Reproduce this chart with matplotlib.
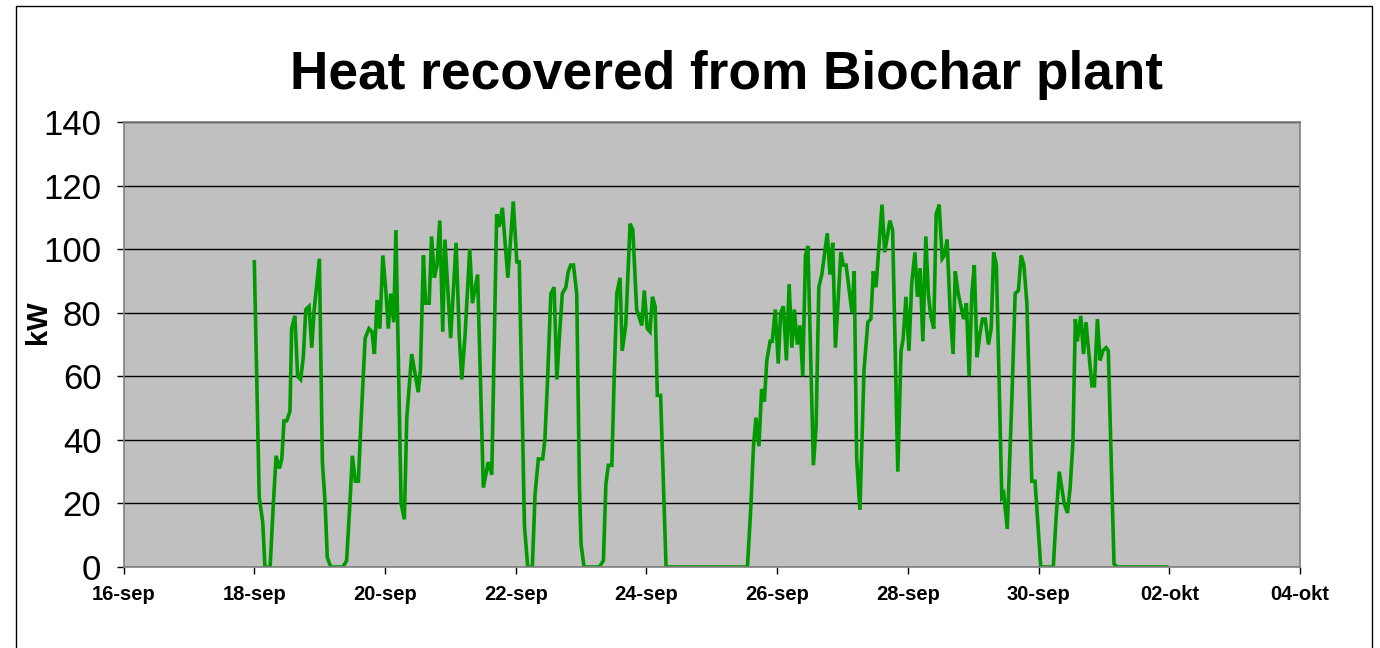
import numpy as np
import pandas as pd
import matplotlib
matplotlib.use("Agg")
import matplotlib.pyplot as plt
import matplotlib.dates as mdates
from matplotlib.patches import Rectangle

# data: hours after 18-sep 00:00 and heat in kW
hours = [
    0.0, 1.8, 3.1, 3.9, 5.8, 7.0, 8.0, 9.2, 10.1, 10.9, 11.9, 13.1, 13.7, 14.9,
    15.9, 17.0, 18.0, 18.9, 20.1, 21.1, 22.0, 23.9, 25.0, 26.0, 26.8, 28.1,
    32.5, 33.9, 35.1, 36.0, 37.1, 38.2, 39.2, 40.7, 42.1, 43.2, 44.1, 45.1,
    46.1, 47.2, 48.3, 49.2, 50.1, 51.2, 52.0,
    53.9, 55.1, 56.0, 57.8, 60.2, 61.0, 62.1, 62.9, 64.2, 65.1, 66.1, 67.1,
    68.1, 69.2, 70.0, 72.1, 74.1, 75.3, 76.2, 77.4, 79.1, 80.1, 82.0, 84.1,
    85.9, 87.2, 89.0, 89.9, 91.1, 93.1, 95.1, 96.4, 97.3, 99.2, 100.4, 102.1,
    103.1, 104.3,
    105.9, 106.7, 107.6, 108.9, 110.1, 111.1, 112.0, 113.1, 114.4, 115.3,
    116.2, 117.2, 118.4, 119.4, 120.0, 121.1, 126.7, 128.2, 129.1, 130.0,
    131.3, 132.1, 133.1, 134.3, 135.1, 136.4, 138.0, 139.0, 140.4, 142.3,
    143.2, 144.3, 145.3, 146.2, 147.2, 148.0, 149.2, 151.2,
    181.1, 182.4, 183.3, 184.2, 185.3, 186.3, 187.3, 188.2, 189.4, 190.2,
    191.3, 192.4, 193.3, 194.3, 195.4, 196.4, 197.4, 198.3, 199.4, 200.4,
    201.4, 202.4, 203.3, 205.3, 206.3, 207.3, 208.4, 210.4, 211.4, 212.4,
    213.4, 215.4, 216.3, 217.3, 219.5, 220.3, 221.2, 222.4, 223.9, 225.3,
    226.4, 227.3, 228.3, 229.5, 230.5, 231.5, 233.4,
    234.4, 236.3, 237.5, 238.3, 239.3, 240.4, 241.4, 242.6, 243.5, 244.5,
    245.5, 246.6, 247.5, 248.4, 249.5, 250.4, 251.5, 252.6, 253.4, 254.4,
    255.5, 256.6, 257.4, 258.5, 260.5, 261.5, 262.5, 263.5, 264.4, 265.4,
    266.4, 267.4, 268.4, 269.6, 270.6, 271.5, 272.5, 274.5, 275.2, 276.5,
    278.2, 279.4, 280.6, 281.6, 282.6, 283.7, 285.5, 286.7,
    288.8, 293.4, 294.4, 295.6, 297.4, 298.6, 299.6, 300.6, 301.5, 302.2,
    303.5, 304.5, 305.4, 306.7, 307.6, 308.5, 309.6, 310.6, 311.6, 312.8,
    313.6, 315.7, 316.9, 335.1,
]
heat_kw = [
    96, 22, 14, 0, 0, 20, 35, 31, 34, 46, 46, 49, 75, 79,
    60, 59, 66, 81, 82, 69, 81, 97, 33, 20, 3, 0,
    0, 2, 20, 35, 27, 27, 46, 72, 75, 74, 67, 84,
    75, 98, 87, 75, 86, 77, 106,
    20, 15, 47, 67, 55, 62, 98, 83, 83, 104, 91, 95,
    109, 74, 103, 72, 102, 72, 59, 73, 100, 83, 92, 25,
    33, 29, 111, 107, 113, 91, 115, 96, 96, 13, 0, 0,
    23, 34,
    34, 40, 57, 86, 88, 59, 72, 86, 88, 93,
    95, 95, 86, 25, 7, 0, 0, 2, 26, 32,
    32, 58, 86, 91, 68, 76, 108, 106, 81, 76,
    87, 75, 74, 85, 82, 54, 54, 0,
    0, 20, 38, 47, 38, 56, 52, 65, 71, 71,
    81, 64, 80, 82, 65, 89, 69, 81, 70, 76,
    60, 98, 101, 32, 44, 88, 92, 105, 92, 102,
    69, 99, 95, 95, 80, 93, 34, 18, 62, 77,
    78, 93, 88, 102, 114, 99, 109,
    106, 30, 68, 72, 85, 68, 89, 99, 85, 94,
    71, 104, 86, 79, 75, 111, 114, 97, 98, 103,
    81, 67, 93, 86, 78, 83, 60, 86, 95, 66,
    73, 78, 78, 70, 75, 99, 95, 22, 23, 12,
    53, 86, 87, 98, 95, 83, 27, 27,
    0, 0, 15, 30, 20, 17, 25, 39, 78, 71,
    79, 67, 77, 65, 57, 57, 78, 65, 68, 69,
    68, 1, 0, 0,
]
tick_labels = ["16-sep", "18-sep", "20-sep", "22-sep", "24-sep",
               "26-sep", "28-sep", "30-sep", "02-okt", "04-okt"]

start = pd.Timestamp("2009-09-18")
times = start + pd.to_timedelta(hours, unit="h")
tick_dates = pd.date_range("2009-09-16", "2009-10-04", freq="2D")

plt.rcParams["font.family"] = ["Liberation Sans", "DejaVu Sans"]

fig = plt.figure(figsize=(13.8, 6.48), dpi=100)
fig.patches.append(Rectangle((16 / 1380, -0.01), 1356 / 1380, 1 - 6 / 648 + 0.01,
                             transform=fig.transFigure, fill=False,
                             edgecolor="black", linewidth=1))

ax = fig.add_axes([123.6 / 1380, 81 / 648, 1176.4 / 1380, 445 / 648])
ax.set_facecolor("#C0C0C0")
ax.plot(times, heat_kw, color="#009900", linewidth=2.6, solid_joinstyle="miter")

ax.set_ylim(0, 140)
ax.set_yticks(range(0, 141, 20))
ax.set_xlim(mdates.date2num(tick_dates[0]), mdates.date2num(tick_dates[-1]))
ax.set_xticks(mdates.date2num(tick_dates))
ax.set_xticklabels(tick_labels, fontsize=14.5, fontweight="bold")
ax.tick_params(axis="y", labelsize=25, length=5, width=1, pad=11, color="black")
ax.tick_params(axis="x", length=5, width=1, pad=8, color="black")

ax.grid(axis="y", color="black", linewidth=1)
ax.grid(axis="x", visible=False)
ax.set_axisbelow(True)
for side in ["top", "right", "bottom", "left"]:
    ax.spines[side].set_color("#808080")
    ax.spines[side].set_linewidth(1.2)

ax.set_ylabel("kW", fontsize=21, fontweight="bold")
ax.yaxis.set_label_coords(-0.061, 0.55)
fig.text(726 / 1380, 1 - 75 / 648, "Heat recovered from Biochar plant",
         fontsize=38.3, fontweight="bold", ha="center", va="center")

fig.savefig("out.png", dpi=100)
